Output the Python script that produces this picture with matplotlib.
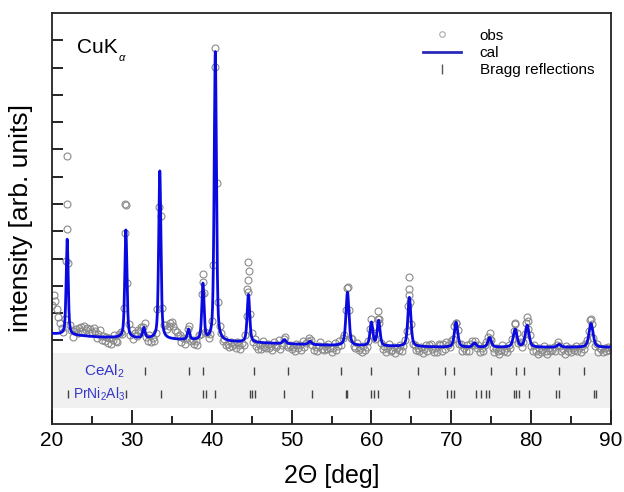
import numpy as np
import matplotlib
matplotlib.use('Agg')
import matplotlib.pyplot as plt
from matplotlib.lines import Line2D

plt.rcParams['font.family'] = ['Liberation Sans', 'DejaVu Sans']
plt.rcParams['mathtext.fontset'] = 'custom'
plt.rcParams['mathtext.rm'] = 'Liberation Sans'
plt.rcParams['mathtext.it'] = 'Liberation Sans:italic'

# ---- data ----
peak_pos    = [21.9, 29.25, 31.5, 33.5, 37.1, 38.9, 40.45, 44.6, 49.1, 52.3, 57.0,
               60.0, 60.9, 64.75, 70.6, 72.9, 74.8, 78.0, 79.5, 83.5, 87.5]
peak_height = [3.5, 3.95, 0.37, 6.15, 0.38, 2.05, 10.6, 1.75, 0.15, 0.12, 1.95,
               0.85, 0.92, 1.8, 0.92, 0.15, 0.35, 0.65, 0.8, 0.1, 0.87]
peak_fwhm   = [0.30, 0.32, 0.35, 0.33, 0.35, 0.33, 0.33, 0.38, 0.45, 0.45, 0.45,
               0.42, 0.42, 0.45, 0.50, 0.50, 0.50, 0.55, 0.55, 0.55, 0.60]

bg_x = [20, 26, 34, 42, 55, 70, 90]
bg_v = [0.25, 0.12, 0.05, -0.05, -0.18, -0.25, -0.25]

obs_start = 20.0
obs_step = 0.2
# deviation of observed points from calc (hundredths of an intensity unit)
obs_offsets = [
    105, 140, 120, 90, 60,   35, 15, -5, 10, 20,   15, -10, 5, -15, 10,
    20, 5, 25, 30, 15,       35, 20, 30, 10, 25,   15, 30, 20, -5, 10,
    25, -10, 5, -15, 0,      -20, -5, -25, -10, 5, -15, -20, 5, 10, -10,
    15, 20, -10, 10, -5,     20, -10, 15, 5, 25,   20, 30, 10, 25, -5,
    -15, 5, -20, -10, -25,   -10, 5, 20, -15, 10,  20, 35, 25, 40, 55,
    60, 45, 30, 25, 10,      15, -10, 5, -20, -5,  10, 20, -15, -5, -20,
    -10, -25, 5, -15, 10,    15, -10, 5, -15, -10, 5, 10, 20, -10, 25,
    10, 5, -15, 0, -20,      -15, -25, -5, -20, -10, -25, -5, -15, -30, -10,
    -20, 5, 15, 10, 20,      15, -5, 10, -15, -25, -10, -25, 5, -15, -20,
    -5, -20, -10, -25, 5,    -15, -5, 10, -20, -10, 5, 10, -10, -15, -5,
    -20, -10, -25, 0, -15,   -5, -20, 10, -10, 5,  10, 15, 5, -5, -20,
    -10, -25, -5, 10, -15,   -20, -5, -15, 5, -10, -25, -10, 5, -20, -5,
    10, -5, 15, 5, 20,       15, 20, -5, 10, -10,  -15, 5, -20, -10, -25,
    -5, -20, -10, 5, 15,     10, -10, 5, 15, 20,   5, -15, -20, -5, -25,
    -10, 5, -20, -15, -5,    -25, -10, -15, 0, -20, -5, 10, 15, 20, -10,
    5, -15, -5, -20, -10,    -20, -5, -25, -10, 5, -15, 5, 10, -10, -20,
    -5, -20, 10, 5, -15,     10, -10, 15, 5, -5,   15, 10, 20, -5, 5,
    -10, 5, -20, -5, -15,    5, -15, 10, 15, -5,   10, -10, 5, -20, -5,
    -15, 5, 10, 15, -5,      5, -10, -20, -5, -15, -25, -10, 5, -15, -5,
    -20, 5, -10, 10, 15,     20, 5, -5, 10, -10,   5, 10, 15, -5, 10,
    -10, -20, 5, -15, -25,   -5, -20, -10, 5, -15, -25, -5, -15, -10, 0,
    -15, 5, 10, -5, -20,     -10, -25, 5, -15, -5, -20, -5, -10, 5, -15,
    -5, -20, 0, -10, 5,      10, 15, 20, 5, -10,   -15, 5, -20, -5, -10,
    -20, -5, -15, 0, -10,    -5,
]
obs_extra_x = [21.9, 21.9, 21.9, 29.2, 29.3, 38.9, 38.9, 40.45, 44.6, 44.7, 44.5, 44.4,
               57.05, 60.85, 60.95, 64.75, 64.7, 64.65, 70.6, 74.8, 78.0, 79.45, 79.55, 87.5]
obs_extra_y = [6.75, 5.0, 4.1, 5.0, 4.95, 2.43, 2.14, 10.7, 2.88, 2.55, 2.2, 1.9,
               1.95, 1.08, 0.78, 2.33, 1.89, 1.67, 0.64, 0.27, 0.64, 0.86, 0.71, 0.79]

ceal2_ticks = [31.6, 37.1, 38.9, 45.3, 49.5, 56.2, 59.96, 65.8, 69.25, 70.4, 74.96,
               78.1, 79.1, 83.5, 86.6]
prni_ticks = [22.0, 29.25, 33.6, 38.9, 39.3, 40.45, 44.75, 45.0, 45.4, 49.0, 52.5,
              56.8, 57.0, 59.96, 60.3, 60.8, 64.75, 69.5, 69.96, 70.4, 73.1, 73.7,
              74.3, 74.75, 77.9, 78.1, 78.5, 79.75, 83.1, 83.5, 87.9, 88.1]
x_major = [20, 30, 40, 50, 60, 70, 80, 90]
x_minor = [25, 35, 45, 55, 65, 75, 85]
y_ticks = list(range(0, 12))

BLUE = '#0a0ae0'
GREY = '#8a8a8a'


def profile(x):
    y = np.interp(x, bg_x, bg_v)
    for p, h, w in zip(peak_pos, peak_height, peak_fwhm):
        u = (x - p) / (w / 2)
        y = y + h * (0.5 / (1 + u ** 2) + 0.5 * np.exp(-np.log(2) * u ** 2))
    return y


xc = np.linspace(20, 90, 7001)
yc = profile(xc)
x_obs = obs_start + obs_step * np.arange(len(obs_offsets))
y_obs = profile(x_obs) + np.array(obs_offsets) / 100.0

fig = plt.figure(figsize=(6.24, 4.92), dpi=100)
ax = fig.add_axes([52 / 624, 68 / 492, 559 / 624, 411 / 492])

ax.axhspan(-2.47, -0.45, color='#f0f0f0', zorder=0, lw=0)

ax.plot(x_obs, y_obs, ls='none', marker='o', mfc='none', mec=GREY, ms=5, mew=0.8, zorder=2)
ax.plot(obs_extra_x, obs_extra_y, ls='none', marker='o', mfc='none', mec=GREY, ms=5, mew=0.8, zorder=2)
ax.plot(xc, yc, color=BLUE, lw=2.0, zorder=3)

ax.vlines(ceal2_ticks, -1.12 - 0.15, -1.12 + 0.15, color='#444444', lw=1.0, zorder=2)
ax.vlines(prni_ticks, -1.96 - 0.15, -1.96 + 0.15, color='#444444', lw=1.0, zorder=2)
ax.text(26.5, -1.12, r'CeAl$_2$', color='#3535c8', fontsize=11, ha='center', va='center')
ax.text(25.95, -1.96, r'PrNi$_2$Al$_3$', color='#3535c8', fontsize=10, ha='center', va='center')

ax.text(0.045, 0.917, 'CuK', transform=ax.transAxes, fontsize=15, ha='left', va='center')
ax.text(0.118, 0.89, r'$\alpha$', transform=ax.transAxes, fontsize=8, ha='left', va='center')

ax.set_xlim(20, 90)
ax.set_ylim(-3.06, 12.0)
ax.set_xticks(x_major)
ax.set_xticks(x_minor, minor=True)
ax.set_yticks(y_ticks)
ax.set_yticklabels([])
ax.tick_params(axis='x', which='major', direction='in', length=10, width=1.2, labelsize=15, pad=5, top=False)
ax.tick_params(axis='x', which='minor', direction='in', length=6, width=1.2, top=False)
ax.tick_params(axis='y', direction='in', length=8, width=1.2, right=False)
for s in ax.spines.values():
    s.set_linewidth(1.3)
    s.set_color('#222222')

ax.set_xlabel('2\u0398 [deg]', fontsize=18, labelpad=10)
ax.set_ylabel('intensity [arb. units]', fontsize=19, labelpad=10)

handles = [
    Line2D([], [], ls='none', marker='o', mfc='none', mec='#aaaaaa', ms=4, mew=0.8),
    Line2D([], [], color='#2a2ab8', lw=2),
    Line2D([], [], ls='none', marker='|', color='#555555', ms=7, mew=1),
]
ax.legend(handles, ['obs', 'cal', 'Bragg reflections'], loc='upper left',
          bbox_to_anchor=(0.664, 0.962), frameon=False, fontsize=11,
          handlelength=2.5, handletextpad=1.2, labelspacing=0.22,
          borderpad=0, borderaxespad=0)

fig.savefig('out.png', dpi=100)
